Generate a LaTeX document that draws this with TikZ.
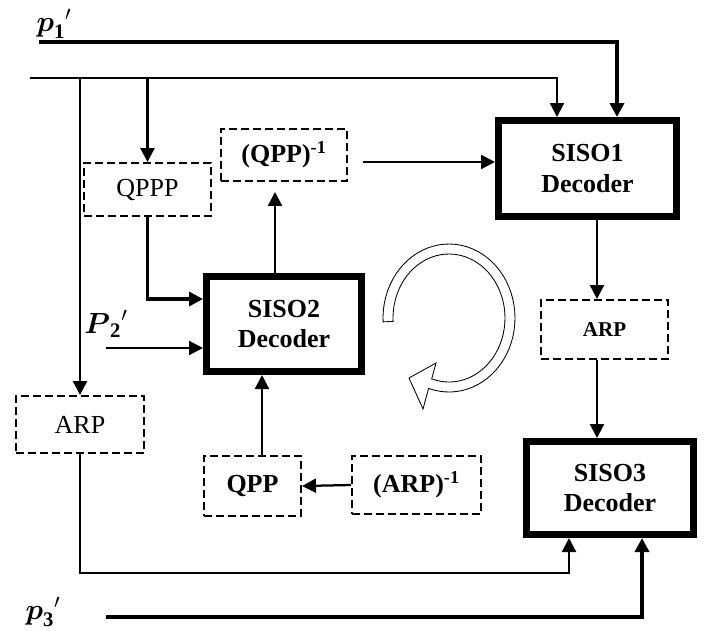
\documentclass[tikz,border=0pt]{standalone}
\usepackage{amsmath,amssymb}
\usepackage{fontspec}
\setmainfont{Liberation Serif}
\usetikzlibrary{arrows.meta}

\begin{document}
\begin{tikzpicture}[x=0.25mm,y=-0.25mm,line width=1.6pt,>={Triangle[length=3.5mm,width=3.5mm]},
  font=\fontsize{18.5}{21.5}\selectfont,every node/.style={align=center},
  decbox/.style={draw,line width=1.75mm,font=\fontsize{18.5}{21.5}\selectfont\bfseries},
  dbox/.style={draw,dash pattern=on 2mm off 1mm,line width=1.4pt},
  heavy/.style={line width=2.8pt},
  plabel/.style={font=\fontsize{21}{23}\selectfont}]
  \useasboundingbox (0,0) rectangle (707,630);
  % decoders
  \node[decbox,minimum width=44.5mm,minimum height=24mm] (siso1) at (587.5,168.5) {SISO1\\Decoder};
  \node[decbox,minimum width=38.75mm,minimum height=23.75mm] (siso2) at (284,324) {SISO2\\Decoder};
  \node[decbox,minimum width=41.75mm,minimum height=23.25mm] (siso3) at (610,488) {SISO3\\Decoder};
  % interleavers
  \node[dbox,minimum width=31.75mm,minimum height=13.25mm] (qppp) at (147.5,189.5) {QPPP};
  \node[dbox,minimum width=31.5mm,minimum height=13mm,font=\fontsize{18.5}{21.5}\selectfont\bfseries] (qppinv) at (284,155) {(QPP)\textsuperscript{-1}};
  \node[dbox,minimum width=31.75mm,minimum height=14.75mm,font=\fontsize{15}{18}\selectfont\bfseries] (arpR) at (604.5,329.5) {ARP};
  \node[dbox,minimum width=32mm,minimum height=14.25mm] (arpL) at (80,424.5) {ARP};
  \node[dbox,minimum width=24.25mm,minimum height=15mm,font=\fontsize{18.5}{21.5}\selectfont\bfseries] (qpp) at (252.5,486) {QPP};
  \node[dbox,minimum width=32.25mm,minimum height=14.5mm,font=\fontsize{18.5}{21.5}\selectfont\bfseries] (arpinv) at (416.5,485) {(ARP)\textsuperscript{-1}};
  % inputs
  \node[plabel] (p1) at (54,24) {${\boldsymbol{p}_{\mathbf{1}}}'$};
  \node[plabel] (p2) at (106,324) {${\boldsymbol{P}_{\mathbf{2}}}'$};
  \node[plabel] (p3) at (43,612) {${\boldsymbol{p}_{\mathbf{3}}}'$};
  \coordinate (in1) at (39,42);
  \coordinate (in0) at (30,78);
  \coordinate (in2) at (106,348);
  \coordinate (in3) at (106,617);
  \coordinate (qo) at ([xshift=3.75mm,yshift=-1.75mm]qppinv.east);

  \draw[->,heavy] (in1) -| ([xshift=7.375mm]siso1.north);
  \draw[->] (in0) -| ([xshift=-7.625mm]siso1.north);
  \draw[->] (in0 -| arpL.north) -- (arpL.north);
  \draw[->] (in0 -| qppp.north) -- (qppp.north);
  \draw[->,line width=2.4pt] (qppp.south) |- ([yshift=6.25mm]siso2.west);
  \draw[->] (in2) -- (in2 -| siso2.west);
  \draw[->,shorten >=2.5mm] ([xshift=-2.25mm]siso2.north) -- ([xshift=-2.25mm]siso2.north |- qppinv.south);
  \draw[->] (qo) -- (qo -| siso1.west);
  \draw[->] ([xshift=2.375mm]siso1.south) -- ([xshift=2.375mm]siso1.south |- arpR.north);
  \draw[->] ([xshift=-1.875mm]arpR.south) -- ([xshift=-1.875mm]arpR.south |- siso3.north);
  \draw[->] ([xshift=2.375mm]qpp.north) -- ([xshift=2.375mm]qpp.north |- siso2.south);
  \draw[->] (arpinv.west) -- (qpp.east);
  \draw[->] (arpL.south) -- ++(0,119) -| ([xshift=-10.25mm]siso3.south);
  \draw[->,heavy] (in3) -| ([xshift=8mm]siso3.south);

  % iteration loop
  \draw[line width=0.6pt,fill=white]
    plot[domain=183:-108,samples=60] ({449+66*cos(\x)},{318-74*sin(\x)})
    -- (423,409) -- (409,378) -- (436,363)
    -- plot[domain=-108:183,samples=60] ({449+56*cos(\x)},{318-64*sin(\x)}) -- cycle;
\end{tikzpicture}
\end{document}
